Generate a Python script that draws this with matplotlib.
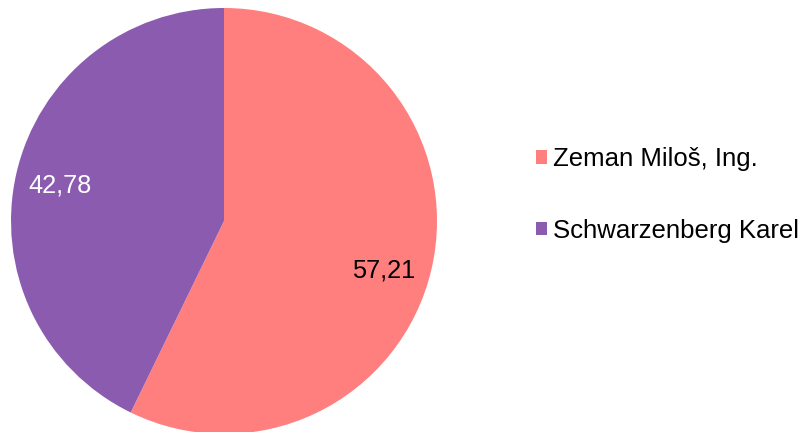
import matplotlib.pyplot as plt

# election result, second round
candidates = ["Zeman Miloš, Ing.", "Schwarzenberg Karel"]
shares = [57.21, 42.78]
share_labels = ["57,21", "42,78"]
colors = ["#FF7F7F", "#8B5BB0"]
label_colors = ["black", "white"]
label_shift = [(-4, -12), (0, -2)]  # small nudges in pixels

plt.rcParams['font.family'] = ['Liberation Sans', 'DejaVu Sans']

fig = plt.figure(figsize=(8.03, 4.32), dpi=100)
ax = fig.add_axes([11 / 803, -2 / 432, 426 / 803, 426 / 432])

wedges, texts = ax.pie(shares, colors=colors, startangle=90, counterclock=False,
                       labels=share_labels, labeldistance=0.79,
                       wedgeprops=dict(linewidth=0))
for t, c, (dx, dy) in zip(texts, label_colors, label_shift):
    x, y = t.get_position()
    t.set_position((x + dx / 213, y + dy / 213))
    t.set_color(c)
    t.set_fontsize(18.3)
    t.set_ha('center')
    t.set_va('center')

ax.set_xlim(-1, 1)
ax.set_ylim(-1, 1)
ax.set_aspect('equal')
ax.axis('off')

fig.legend(wedges, candidates, loc='center left', bbox_to_anchor=(0.668, 0.549),
           frameon=False, fontsize=18.5, handlelength=0.42, handleheight=0.42,
           handletextpad=0.22, labelspacing=1.85, borderpad=0, borderaxespad=0)

fig.savefig("out.png", dpi=100)
